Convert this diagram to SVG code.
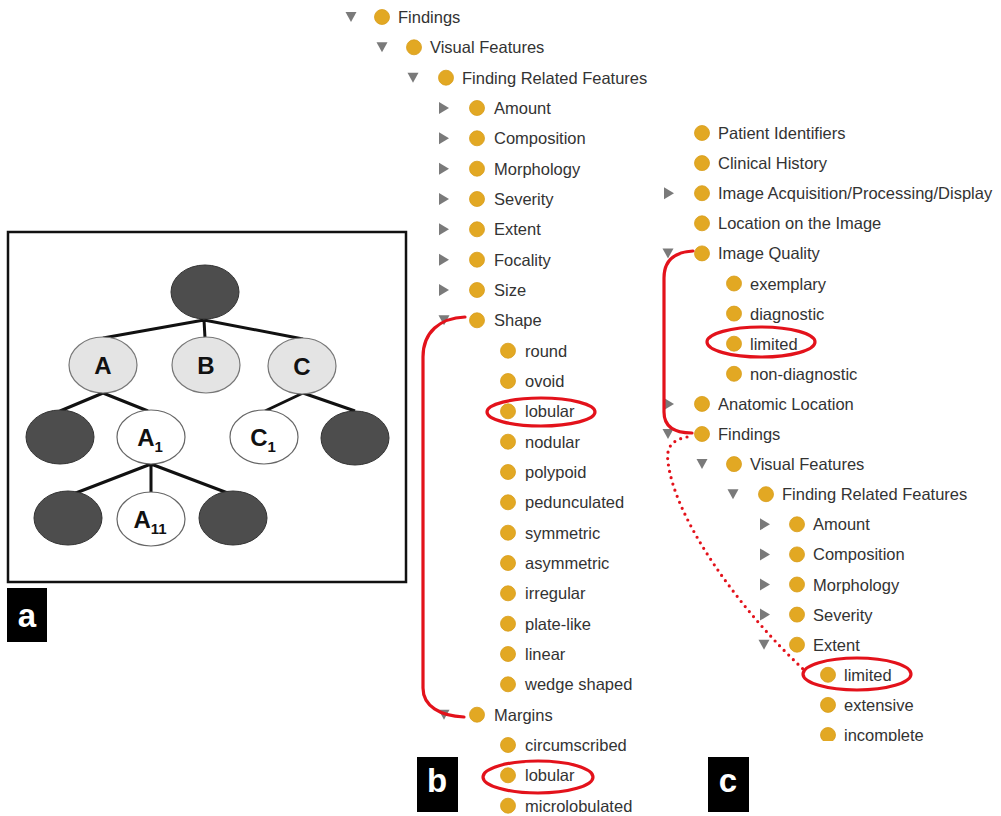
<svg xmlns="http://www.w3.org/2000/svg" xmlns:xlink="http://www.w3.org/1999/xlink" width="1001" height="816" viewBox="0 0 1001 816">
<defs>
<style>
.t{font-family:"Liberation Sans",Arial,sans-serif;font-size:16.5px;fill:#333;}
.dot{fill:#E2A823;stroke:#d89d1a;stroke-width:0.8;}
.tri{fill:#7a7a7a;}
.dk{fill:#4d4d4d;stroke:#333;stroke-width:1;}
.lt{fill:#e4e4e4;stroke:#777;stroke-width:1.2;}
.wh{fill:#ffffff;stroke:#666;stroke-width:1.2;}
.edge{stroke:#111;stroke-width:3;fill:none;}
.nl{font-family:"Liberation Sans",Arial,sans-serif;font-size:24px;font-weight:bold;fill:#111;text-anchor:middle;}
.red{fill:none;stroke:#e3121b;stroke-width:3.2;stroke-linecap:round;}
.lab{fill:#000;}
.labt{font-family:"Liberation Sans",Arial,sans-serif;font-size:33px;font-weight:bold;fill:#fff;text-anchor:middle;}
</style>
<path id="td" class="tri" d="M-5.5,-5 L5.5,-5 L0,5 Z"/>
<path id="tr" class="tri" d="M-5,-6 L5,0 L-5,6 Z"/>
<clipPath id="clipc"><rect x="0" y="0" width="1001" height="741"/></clipPath>
</defs>
<rect width="1001" height="816" fill="#fff"/>

<!-- Panel a -->
<g id="panel-a">
<rect x="8" y="232" width="398" height="350" fill="#fff" stroke="#111" stroke-width="2.5"/>
<g id="a-edges">
<path class="edge" d="M204,320 L103,338 M204,320 L205,338 M204,320 L303,339"/>
<path class="edge" d="M103,393 L60,411 M103,393 L148,411"/>
<path class="edge" d="M303,393 L265,411 M303,393 L355,411"/>
<path class="edge" d="M151,464 L68,496 M151,464 L151,494 M151,464 L233,495"/>
</g>
<g id="a-root"><ellipse class="dk" cx="205" cy="292" rx="34" ry="27"/></g>
<g id="a-A"><ellipse class="lt" cx="103" cy="365" rx="34" ry="28"/><text class="nl" x="103" y="374">A</text></g>
<g id="a-B"><ellipse class="lt" cx="206" cy="365" rx="34" ry="28"/><text class="nl" x="206" y="374">B</text></g>
<g id="a-C"><ellipse class="lt" cx="302" cy="366" rx="34" ry="28"/><text class="nl" x="302" y="375">C</text></g>
<g id="a-d1"><ellipse class="dk" cx="60" cy="437" rx="34" ry="27"/></g>
<g id="a-A1"><ellipse class="wh" cx="151" cy="437" rx="34" ry="27"/><text class="nl" x="150" y="446">A<tspan font-size="15" dy="6">1</tspan></text></g>
<g id="a-C1"><ellipse class="wh" cx="264" cy="437" rx="34" ry="27"/><text class="nl" x="263" y="446">C<tspan font-size="15" dy="6">1</tspan></text></g>
<g id="a-d2"><ellipse class="dk" cx="355" cy="438" rx="34" ry="27"/></g>
<g id="a-d3"><ellipse class="dk" cx="68" cy="518" rx="34" ry="27"/></g>
<g id="a-A11"><ellipse class="wh" cx="151" cy="519" rx="34" ry="27"/><text class="nl" x="150" y="528">A<tspan font-size="15" dy="6">11</tspan></text></g>
<g id="a-d4"><ellipse class="dk" cx="233" cy="518" rx="34" ry="27"/></g>
</g>

<!-- Labels -->
<g id="label-a"><rect class="lab" x="7" y="588" width="40" height="54"/><text class="labt" x="27" y="627">a</text></g>
<g id="label-b"><rect class="lab" x="417" y="757" width="41" height="55"/><text class="labt" x="437" y="792">b</text></g>
<g id="label-c"><rect class="lab" x="708" y="757" width="41" height="55"/><text class="labt" x="728" y="792">c</text></g>

<!-- Tree b -->
<g id="tree-b">
<g id="b0"><use href="#td" x="351" y="17"/><circle class="dot" cx="382" cy="17" r="7.5"/><text class="t" x="398" y="23">Findings</text></g>
<g id="b1"><use href="#td" x="382" y="47.3"/><circle class="dot" cx="414" cy="47.3" r="7.5"/><text class="t" x="430" y="53.3">Visual Features</text></g>
<g id="b2"><use href="#td" x="413" y="77.7"/><circle class="dot" cx="446" cy="77.7" r="7.5"/><text class="t" x="462" y="83.7">Finding Related Features</text></g>
<g id="b3"><use href="#tr" x="444" y="108"/><circle class="dot" cx="477" cy="108" r="7.5"/><text class="t" x="494" y="114">Amount</text></g>
<g id="b4"><use href="#tr" x="444" y="138.3"/><circle class="dot" cx="477" cy="138.3" r="7.5"/><text class="t" x="494" y="144.3">Composition</text></g>
<g id="b5"><use href="#tr" x="444" y="168.7"/><circle class="dot" cx="477" cy="168.7" r="7.5"/><text class="t" x="494" y="174.7">Morphology</text></g>
<g id="b6"><use href="#tr" x="444" y="199"/><circle class="dot" cx="477" cy="199" r="7.5"/><text class="t" x="494" y="205">Severity</text></g>
<g id="b7"><use href="#tr" x="444" y="229.3"/><circle class="dot" cx="477" cy="229.3" r="7.5"/><text class="t" x="494" y="235.3">Extent</text></g>
<g id="b8"><use href="#tr" x="444" y="259.7"/><circle class="dot" cx="477" cy="259.7" r="7.5"/><text class="t" x="494" y="265.7">Focality</text></g>
<g id="b9"><use href="#tr" x="444" y="290"/><circle class="dot" cx="477" cy="290" r="7.5"/><text class="t" x="494" y="296">Size</text></g>
<g id="b10"><use href="#td" x="444" y="320.3"/><circle class="dot" cx="477" cy="320.3" r="7.5"/><text class="t" x="494" y="326.3">Shape</text></g>
<g id="b11"><circle class="dot" cx="508" cy="350.7" r="7.5"/><text class="t" x="525" y="356.7">round</text></g>
<g id="b12"><circle class="dot" cx="508" cy="381" r="7.5"/><text class="t" x="525" y="387">ovoid</text></g>
<g id="b13"><circle class="dot" cx="508" cy="411.3" r="7.5"/><text class="t" x="525" y="417.3">lobular</text></g>
<g id="b14"><circle class="dot" cx="508" cy="441.7" r="7.5"/><text class="t" x="525" y="447.7">nodular</text></g>
<g id="b15"><circle class="dot" cx="508" cy="472" r="7.5"/><text class="t" x="525" y="478">polypoid</text></g>
<g id="b16"><circle class="dot" cx="508" cy="502.3" r="7.5"/><text class="t" x="525" y="508.3">pedunculated</text></g>
<g id="b17"><circle class="dot" cx="508" cy="532.7" r="7.5"/><text class="t" x="525" y="538.7">symmetric</text></g>
<g id="b18"><circle class="dot" cx="508" cy="563" r="7.5"/><text class="t" x="525" y="569">asymmetric</text></g>
<g id="b19"><circle class="dot" cx="508" cy="593.3" r="7.5"/><text class="t" x="525" y="599.3">irregular</text></g>
<g id="b20"><circle class="dot" cx="508" cy="623.7" r="7.5"/><text class="t" x="525" y="629.7">plate-like</text></g>
<g id="b21"><circle class="dot" cx="508" cy="654" r="7.5"/><text class="t" x="525" y="660">linear</text></g>
<g id="b22"><circle class="dot" cx="508" cy="684.3" r="7.5"/><text class="t" x="525" y="690.3">wedge shaped</text></g>
<g id="b23"><use href="#td" x="444" y="714.7"/><circle class="dot" cx="477" cy="714.7" r="7.5"/><text class="t" x="494" y="720.7">Margins</text></g>
<g id="b24"><circle class="dot" cx="508" cy="745" r="7.5"/><text class="t" x="525" y="751">circumscribed</text></g>
<g id="b25"><circle class="dot" cx="508" cy="775.3" r="7.5"/><text class="t" x="525" y="781.3">lobular</text></g>
<g id="b26"><circle class="dot" cx="508" cy="805.7" r="7.5"/><text class="t" x="525" y="811.7">microlobulated</text></g>
</g>

<!-- Tree c -->
<g id="tree-c" clip-path="url(#clipc)">
<g id="c0"><circle class="dot" cx="702" cy="133" r="7.5"/><text class="t" x="718" y="139">Patient Identifiers</text></g>
<g id="c1"><circle class="dot" cx="702" cy="163.1" r="7.5"/><text class="t" x="718" y="169.1">Clinical History</text></g>
<g id="c2"><use href="#tr" x="669" y="193.2"/><circle class="dot" cx="702" cy="193.2" r="7.5"/><text class="t" x="718" y="199.2">Image Acquisition/Processing/Display</text></g>
<g id="c3"><circle class="dot" cx="702" cy="223.3" r="7.5"/><text class="t" x="718" y="229.3">Location on the Image</text></g>
<g id="c4"><use href="#td" x="668" y="253.4"/><circle class="dot" cx="702" cy="253.4" r="7.5"/><text class="t" x="718" y="259.4">Image Quality</text></g>
<g id="c5"><circle class="dot" cx="734" cy="283.5" r="7.5"/><text class="t" x="750" y="289.5">exemplary</text></g>
<g id="c6"><circle class="dot" cx="734" cy="313.6" r="7.5"/><text class="t" x="750" y="319.6">diagnostic</text></g>
<g id="c7"><circle class="dot" cx="734" cy="343.7" r="7.5"/><text class="t" x="750" y="349.7">limited</text></g>
<g id="c8"><circle class="dot" cx="734" cy="373.8" r="7.5"/><text class="t" x="750" y="379.8">non-diagnostic</text></g>
<g id="c9"><use href="#tr" x="669" y="403.9"/><circle class="dot" cx="702" cy="403.9" r="7.5"/><text class="t" x="718" y="409.9">Anatomic Location</text></g>
<g id="c10"><use href="#td" x="668" y="434"/><circle class="dot" cx="702" cy="434" r="7.5"/><text class="t" x="718" y="440">Findings</text></g>
<g id="c11"><use href="#td" x="702" y="464.1"/><circle class="dot" cx="734" cy="464.1" r="7.5"/><text class="t" x="750" y="470.1">Visual Features</text></g>
<g id="c12"><use href="#td" x="733" y="494.2"/><circle class="dot" cx="766" cy="494.2" r="7.5"/><text class="t" x="782" y="500.2">Finding Related Features</text></g>
<g id="c13"><use href="#tr" x="765" y="524.3"/><circle class="dot" cx="797" cy="524.3" r="7.5"/><text class="t" x="813" y="530.3">Amount</text></g>
<g id="c14"><use href="#tr" x="765" y="554.4"/><circle class="dot" cx="797" cy="554.4" r="7.5"/><text class="t" x="813" y="560.4">Composition</text></g>
<g id="c15"><use href="#tr" x="765" y="584.5"/><circle class="dot" cx="797" cy="584.5" r="7.5"/><text class="t" x="813" y="590.5">Morphology</text></g>
<g id="c16"><use href="#tr" x="765" y="614.6"/><circle class="dot" cx="797" cy="614.6" r="7.5"/><text class="t" x="813" y="620.6">Severity</text></g>
<g id="c17"><use href="#td" x="764" y="644.7"/><circle class="dot" cx="797" cy="644.7" r="7.5"/><text class="t" x="813" y="650.7">Extent</text></g>
<g id="c18"><circle class="dot" cx="828" cy="674.8" r="7.5"/><text class="t" x="844" y="680.8">limited</text></g>
<g id="c19"><circle class="dot" cx="828" cy="704.9" r="7.5"/><text class="t" x="844" y="710.9">extensive</text></g>
<g id="c20"><circle class="dot" cx="828" cy="735" r="7.5"/><text class="t" x="844" y="741">incomplete</text></g>
</g>

<!-- Red annotations -->
<g id="connectors">
<path class="red" d="M465,317 C440,318 423,332 423,357 L423,688 C423,706 440,716 464,717"/>
<path class="red" d="M693,251 C675,252 664,260 664,278 L664,412 C664,426 674,433 692,433"/>
<path class="red" d="M687,437 C672,440 666,447 668,462 C675,520 740,610 803,669" stroke-dasharray="0 6.5" stroke-width="4.2"/>
<ellipse class="red" cx="541" cy="412" rx="54" ry="14"/>
<ellipse class="red" cx="538" cy="777" rx="55" ry="16"/>
<ellipse class="red" cx="761" cy="342" rx="54" ry="15"/>
<ellipse class="red" cx="857" cy="674" rx="54" ry="16"/>
</g>
</svg>
